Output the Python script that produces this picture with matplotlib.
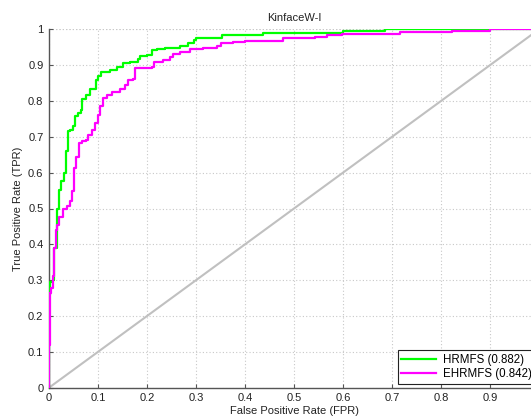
import matplotlib
matplotlib.use("Agg")
import matplotlib.pyplot as plt
from matplotlib.ticker import FuncFormatter

plt.rcParams['font.family'] = ['Liberation Sans', 'DejaVu Sans']

title = "KinfaceW-I"
xlabel = "False Positive Rate (FPR)"
ylabel = "True Positive Rate (TPR)"

hr_label = "HRMFS (0.882)"
hr_fpr = [0, 0, 0.003, 0.009, 0.011, 0.016, 0.017, 0.020, 0.024, 0.031, 0.034, 0.038,
          0.043, 0.048, 0.053, 0.059, 0.065, 0.068, 0.076, 0.084, 0.096, 0.101, 0.107,
          0.124, 0.138, 0.152, 0.165, 0.182, 0.186, 0.200, 0.210, 0.220, 0.237, 0.267,
          0.284, 0.295, 0.300, 0.353, 0.437, 0.600, 0.686, 1.0]
hr_tpr = [0, 0.26, 0.295, 0.30, 0.39, 0.437, 0.50, 0.551, 0.578, 0.60, 0.66, 0.715,
          0.72, 0.73, 0.757, 0.766, 0.775, 0.806, 0.817, 0.833, 0.859, 0.870, 0.88,
          0.887, 0.894, 0.906, 0.91, 0.916, 0.926, 0.929, 0.943, 0.945, 0.947, 0.954,
          0.961, 0.97, 0.975, 0.984, 0.991, 0.996, 1.0, 1.0]

ehr_label = "EHRMFS (0.842)"
ehr_fpr = [0, 0, 0.002, 0.005, 0.009, 0.011, 0.014, 0.017, 0.021, 0.028, 0.036, 0.043,
           0.046, 0.050, 0.055, 0.061, 0.067, 0.076, 0.080, 0.087, 0.093, 0.099, 0.104,
           0.111, 0.118, 0.128, 0.145, 0.155, 0.162, 0.171, 0.176, 0.210, 0.214, 0.233,
           0.247, 0.254, 0.267, 0.288, 0.315, 0.342, 0.352, 0.376, 0.400, 0.478, 0.543,
           0.567, 0.598, 0.716, 0.822, 0.900, 1.0]
ehr_tpr = [0, 0.119, 0.263, 0.277, 0.313, 0.39, 0.44, 0.454, 0.477, 0.50, 0.506, 0.52,
           0.548, 0.613, 0.645, 0.682, 0.687, 0.692, 0.706, 0.72, 0.739, 0.762, 0.785,
           0.808, 0.817, 0.826, 0.833, 0.845, 0.859, 0.861, 0.892, 0.896, 0.91, 0.915,
           0.922, 0.931, 0.938, 0.945, 0.949, 0.954, 0.961, 0.964, 0.968, 0.975, 0.979,
           0.983, 0.986, 0.9915, 0.996, 1.0, 1.0]

diag = [0, 1]
xticks = [0, 0.1, 0.2, 0.3, 0.4, 0.5, 0.6, 0.7, 0.8, 0.9]
yticks = [0, 0.1, 0.2, 0.3, 0.4, 0.5, 0.6, 0.7, 0.8, 0.9, 1.0]

W, H = 531, 417
fig = plt.figure(figsize=(W / 100, H / 100), dpi=100)
ax = fig.add_axes([49 / W, (H - 387.7) / H, 490 / W, 358.4 / H])

ax.plot(diag, diag, color='#c0c0c0', lw=1.5, zorder=2)
ax.plot(hr_fpr, hr_tpr, drawstyle='steps-post', color='#00ff00', lw=1.6,
        label=hr_label, zorder=3)
ax.plot(ehr_fpr, ehr_tpr, drawstyle='steps-post', color='#ff00ff', lw=1.6,
        label=ehr_label, zorder=4)

ax.set_xlim(0, 1)
ax.set_ylim(0, 1)
ax.set_xticks(xticks)
ax.set_yticks(yticks)
fmt = FuncFormatter(lambda v, p: '%g' % round(v, 2))
ax.xaxis.set_major_formatter(fmt)
ax.yaxis.set_major_formatter(fmt)
ax.tick_params(direction='in', length=3, width=0.8, color='#555555',
               labelsize=8, labelcolor='#222222', pad=4)
ax.grid(True, linestyle=(0, (1, 2)), color='#c8c8c8', lw=0.8)
ax.axhline(1.0, linestyle=(0, (1, 2)), color='#c8c8c8', lw=0.8, zorder=0.5)
ax.set_axisbelow(True)
for s in ['top', 'right']:
    ax.spines[s].set_visible(False)
for s in ['left', 'bottom']:
    ax.spines[s].set_color('#555555')
    ax.spines[s].set_linewidth(1.0)

ax.set_title(title, fontsize=8, color='#222222', pad=6)
ax.set_xlabel(xlabel, fontsize=8, color='#222222', labelpad=2)
ax.set_ylabel(ylabel, fontsize=8, color='#222222', labelpad=4)

leg = ax.legend(loc='lower right', fontsize=8.3, fancybox=False, framealpha=1,
                edgecolor='#222222', handlelength=3.0, borderaxespad=0.35,
                labelspacing=0.2, borderpad=0.3, handletextpad=0.6)
leg.get_frame().set_linewidth(0.8)

fig.savefig('out.png', dpi=100)
